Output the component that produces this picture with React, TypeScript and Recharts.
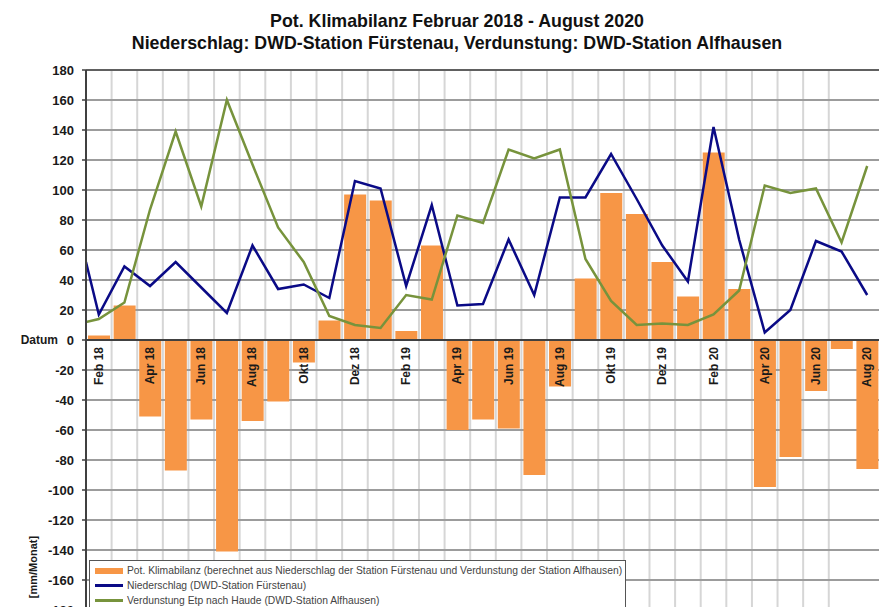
import {
  Bar,
  CartesianGrid,
  ComposedChart,
  Legend,
  Line,
  ReferenceDot,
  ReferenceLine,
  XAxis,
  YAxis,
} from "recharts";

const FONT = "'Liberation Sans', Arial, sans-serif";

const months = [
  "Feb 18", "Mrz 18", "Apr 18", "Mai 18", "Jun 18", "Jul 18", "Aug 18", "Sep 18", "Okt 18", "Nov 18", "Dez 18",
  "Jan 19", "Feb 19", "Mrz 19", "Apr 19", "Mai 19", "Jun 19", "Jul 19", "Aug 19", "Sep 19", "Okt 19", "Nov 19", "Dez 19",
  "Jan 20", "Feb 20", "Mrz 20", "Apr 20", "Mai 20", "Jun 20", "Jul 20", "Aug 20",
];

// jeder zweite Monat beschriftet
const labeledMonths = months.filter((_, i) => i % 2 === 0);

// Pot. Klimabilanz (Niederschlag - Verdunstung), mm/Monat
const klimabilanz = [
  3, 23, -51, -87, -53, -141, -54, -41, -15, 13, 97,
  93, 6, 63, -60, -53, -59, -90, -31, 41, 98, 84, 52,
  29, 125, 34, -98, -78, -34, -6, -86,
];

const niederschlag = [
  17, 49, 36, 52, 35, 18, 63, 34, 37, 28, 106,
  101, 36, 90, 23, 24, 67, 30, 95, 95, 124, 94, 63,
  39, 142, 67, 5, 20, 66, 59, 30,
];

const verdunstung = [
  14, 25, 87, 139, 89, 160, 117, 75, 52, 16, 10,
  8, 30, 27, 83, 78, 127, 121, 127, 54, 26, 10, 11,
  10, 17, 33, 103, 98, 101, 65, 116,
];

// Anfangswerte der Linien am linken Rand (vor Feb 18)
const startNiederschlag = 52;
const startVerdunstung = 12;

const yTicks = [-180, -160, -140, -120, -100, -80, -60, -40, -20, 0, 20, 40, 60, 80, 100, 120, 140, 160, 180];
const gridTicks = Array.from({ length: months.length + 1 }, (_, i) => i);

const barRows = months.map((m, i) => ({ month: m, bilanz: klimabilanz[i] }));
const lineRows = [
  { pos: 0, niederschlag: startNiederschlag, verdunstung: startVerdunstung },
  ...months.map((_, i) => ({ pos: i + 0.5, niederschlag: niederschlag[i], verdunstung: verdunstung[i] })),
];

const ORANGE = "#F79646";
const BLUE = "#0A0A86";
const GREEN = "#77933C";

const YTick = ({ x, y, payload }: any) => (
  <g>
    <text x={x} y={y} textAnchor="end" dominantBaseline="central" fontFamily={FONT} fontWeight="bold" fontSize={13} fill="#1a1a1a">
      {payload.value}
    </text>
    {payload.value === 0 && (
      <text x={x - 16} y={y} textAnchor="end" dominantBaseline="central" fontFamily={FONT} fontWeight="bold" fontSize={12} fill="#1a1a1a">
        Datum
      </text>
    )}
  </g>
);

const MonthLabel = ({ cx, cy, text }: any) => (
  <text
    x={cx}
    y={cy + 7}
    transform={`rotate(-90 ${cx} ${cy + 7})`}
    textAnchor="end"
    dominantBaseline="central"
    fontFamily={FONT}
    fontWeight="bold"
    fontSize={12}
    fill="#1a1a1a"
  >
    {text}
  </text>
);

const YLabel = ({ viewBox }: any) => {
  const x = viewBox.x + 33;
  const y = viewBox.y + viewBox.height - 43;
  return (
    <text x={x} y={y} transform={`rotate(-90 ${x} ${y})`} textAnchor="middle" dominantBaseline="central" fontFamily={FONT} fontWeight="bold" fontSize={11} fill="#1a1a1a">
      [mm/Monat]
    </text>
  );
};

// Balken zuerst, dann die Linien
const LegendBox = ({ payload }: any) => {
  const items = [...(payload || [])].sort((a: any, b: any) => (a.type === "rect" ? -1 : 0) - (b.type === "rect" ? -1 : 0));
  return (
    <div style={{ border: "1px solid #555", background: "#fff", height: 52, paddingTop: 2, boxSizing: "border-box", fontFamily: FONT }}>
      {items.map((p: any) => (
        <div key={p.value} style={{ display: "flex", alignItems: "center", height: 15 }}>
          <span style={{ display: "inline-block", width: 28, height: p.type === "rect" ? 6 : 2.5, background: p.color, marginLeft: 5, marginRight: 4 }} />
          <span style={{ fontSize: 10.3, color: "#444", whiteSpace: "nowrap" }}>{p.value}</span>
        </div>
      ))}
    </div>
  );
};

export default function App() {
  return (
    <div style={{ position: "absolute", left: 0, top: 0, width: 879, height: 607, overflow: "hidden", background: "#fff" }}>
      <div style={{ position: "absolute", left: 0, top: 10, width: 914, textAlign: "center", fontFamily: FONT, fontWeight: "bold", fontSize: 17.8, lineHeight: "22px", color: "#111", zIndex: 2 }}>
        <div>Pot. Klimabilanz Februar 2018 - August 2020</div>
        <div>Niederschlag: DWD-Station Fürstenau, Verdunstung: DWD-Station Alfhausen</div>
      </div>
      <ComposedChart width={880} height={620} data={barRows} margin={{ top: 70, right: 0, bottom: 10, left: 0 }}>
        <XAxis xAxisId="cat" dataKey="month" type="category" hide />
        <XAxis xAxisId="num" dataKey="pos" type="number" domain={[0, months.length]} ticks={gridTicks} hide allowDataOverflow />
        <YAxis
          domain={[-180, 180]}
          ticks={yTicks}
          width={86}
          interval={0}
          axisLine={{ stroke: "#404040", strokeWidth: 2 }}
          tickLine={{ stroke: "#404040", strokeWidth: 1.5 }}
          tickSize={4}
          tickMargin={8}
          tick={<YTick />}
          label={{ content: <YLabel /> }}
        />
        <CartesianGrid xAxisId="num" horizontal={false} stroke="#d6d6d6" strokeWidth={2} />
        <CartesianGrid vertical={false} stroke="#9c9c9c" strokeWidth={2} />
        <ReferenceLine y={180} stroke="#606060" strokeWidth={2} />
        <Bar xAxisId="cat" dataKey="bilanz" name="Pot. Klimabilanz (berechnet aus Niederschlag der Station Fürstenau und Verdunstung der Station Alfhausen)" fill={ORANGE} barSize={22} isAnimationActive={false} />
        <ReferenceLine y={0} stroke="#404040" strokeWidth={2} />
        <Line xAxisId="num" data={lineRows} dataKey="niederschlag" name="Niederschlag (DWD-Station Fürstenau)" type="linear" stroke={BLUE} strokeWidth={2.5} dot={false} isAnimationActive={false} />
        <Line xAxisId="num" data={lineRows} dataKey="verdunstung" name="Verdunstung Etp nach Haude (DWD-Station Alfhausen)" type="linear" stroke={GREEN} strokeWidth={2.5} dot={false} isAnimationActive={false} />
        {labeledMonths.map((m) => (
          <ReferenceDot key={m} xAxisId="cat" x={m} y={0} r={0} ifOverflow="visible" shape={(p: any) => <MonthLabel {...p} text={m} />} />
        ))}
        <Legend
          layout="horizontal"
          verticalAlign="middle"
          align="center"
          wrapperStyle={{ left: 89, top: 560, width: 537, bottom: "auto" }}
          content={<LegendBox />}
        />
      </ComposedChart>
    </div>
  );
}
